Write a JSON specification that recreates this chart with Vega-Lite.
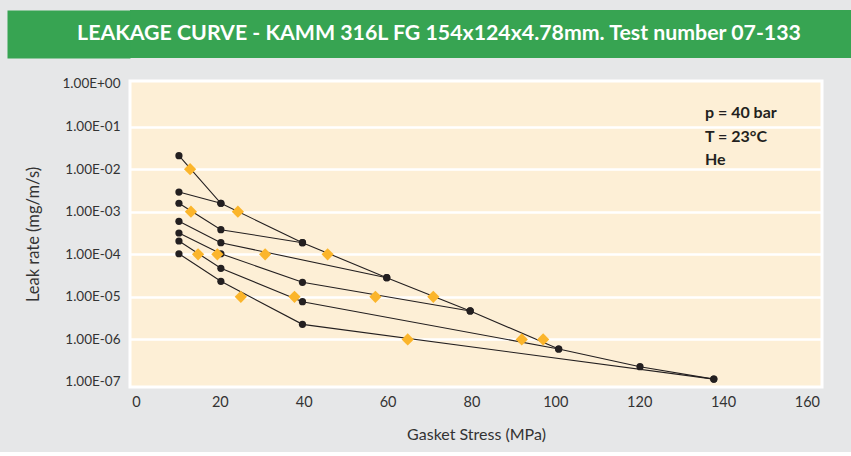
{
  "$schema": "https://vega.github.io/schema/vega-lite/v6.json",
  "background": "#e6e7e8",
  "padding": {"left": 5, "top": 10, "right": 0, "bottom": 8},
  "spacing": 17,
  "config": {"font": "Lato", "view": {"stroke": null}},
  "datasets": {
    "lines": [
      {"s": "load", "i": 1, "x": 10.24, "y": 2.07e-2},
      {"s": "load", "i": 2, "x": 20.24, "y": 1.58e-3},
      {"s": "load", "i": 3, "x": 39.7, "y": 1.87e-4},
      {"s": "load", "i": 4, "x": 59.8, "y": 2.82e-5},
      {"s": "load", "i": 5, "x": 79.7, "y": 4.66e-6},
      {"s": "load", "i": 6, "x": 100.8, "y": 5.96e-7},
      {"s": "load", "i": 7, "x": 120.2, "y": 2.29e-7},
      {"s": "load", "i": 8, "x": 137.8, "y": 1.17e-7},
      {"s": "u20", "i": 1, "x": 20.24, "y": 1.58e-3},
      {"s": "u20", "i": 2, "x": 10.24, "y": 2.90e-3},
      {"s": "u40", "i": 1, "x": 39.7, "y": 1.87e-4},
      {"s": "u40", "i": 2, "x": 20.24, "y": 3.78e-4},
      {"s": "u40", "i": 3, "x": 10.24, "y": 1.58e-3},
      {"s": "u60", "i": 1, "x": 59.8, "y": 2.82e-5},
      {"s": "u60", "i": 2, "x": 20.24, "y": 1.87e-4},
      {"s": "u60", "i": 3, "x": 10.24, "y": 5.95e-4},
      {"s": "u80", "i": 1, "x": 79.7, "y": 4.66e-6},
      {"s": "u80", "i": 2, "x": 39.7, "y": 2.20e-5},
      {"s": "u80", "i": 3, "x": 20.24, "y": 1.03e-4},
      {"s": "u80", "i": 4, "x": 10.24, "y": 3.16e-4},
      {"s": "u100", "i": 1, "x": 100.8, "y": 5.96e-7},
      {"s": "u100", "i": 2, "x": 39.7, "y": 7.69e-6},
      {"s": "u100", "i": 3, "x": 20.24, "y": 4.69e-5},
      {"s": "u100", "i": 4, "x": 10.24, "y": 2.05e-4},
      {"s": "u140", "i": 1, "x": 137.8, "y": 1.17e-7},
      {"s": "u140", "i": 2, "x": 39.7, "y": 2.26e-6},
      {"s": "u140", "i": 3, "x": 20.24, "y": 2.32e-5},
      {"s": "u140", "i": 4, "x": 10.24, "y": 1.03e-4}
    ],
    "diamonds": [
      {"x": 12.9, "y": 1e-2},
      {"x": 24.3, "y": 1e-3},
      {"x": 13.1, "y": 1e-3},
      {"x": 14.8, "y": 1e-4},
      {"x": 19.4, "y": 1e-4},
      {"x": 30.8, "y": 1e-4},
      {"x": 45.7, "y": 1e-4},
      {"x": 25.0, "y": 1e-5},
      {"x": 37.8, "y": 1e-5},
      {"x": 57.1, "y": 1e-5},
      {"x": 70.9, "y": 1e-5},
      {"x": 64.8, "y": 1e-6},
      {"x": 92.0, "y": 1e-6},
      {"x": 97.1, "y": 1e-6}
    ]
  },
  "vconcat": [
    {
      "width": 723,
      "height": 48,
      "view": {"fill": "#37a452", "stroke": null},
      "data": {"values": [{"t": "LEAKAGE CURVE - KAMM 316L FG 154x124x4.78mm. Test number 07-133"}]},
      "mark": {"type": "text", "color": "white", "font": "Lato", "fontWeight": "bold", "fontSize": 21.3, "dx": -52.5, "baseline": "middle", "align": "center"},
      "encoding": {
        "text": {"field": "t"},
        "y": {
          "datum": 0, "type": "quantitative",
          "scale": {"domain": [-1, 1]},
          "axis": {
            "orient": "left", "domain": true, "domainColor": "#37a452", "domainWidth": 123,
            "domainOpacity": 1, "offset": 61.5,
            "labels": false, "ticks": false, "grid": false, "title": null
          }
        }
      }
    },
    {
      "width": 692,
      "height": 306,
      "view": {"fill": "#fdefd6", "stroke": "white", "strokeWidth": 3},
      "resolve": {"axis": {"y": "independent"}},
      "layer": [
        {
          "data": {"name": "lines"},
          "mark": {"type": "line", "color": "#231f20", "strokeWidth": 1.1},
          "encoding": {
            "x": {
              "field": "x", "type": "quantitative",
              "scale": {"domain": [-1.43, 163.6], "nice": false, "zero": false},
              "axis": {
                "values": [0, 20, 40, 60, 80, 100, 120, 140, 160],
                "ticks": false, "domain": false, "grid": false,
                "labelFontSize": 14.5, "labelColor": "#333333", "labelPadding": 8,
                "title": "Gasket Stress (MPa)", "titleFontSize": 16, "titleFontWeight": "normal",
                "titleColor": "#333333", "titlePadding": 18
              }
            },
            "y": {
              "field": "y", "type": "quantitative",
              "scale": {"type": "log", "domain": [7.63e-8, 1.176], "nice": false},
              "axis": {
                "orient": "left",
                "values": [1e-7, 1e-6, 1e-5, 1e-4, 1e-3, 1e-2, 1e-1, 1],
                "labelExpr": "datum.value >= 1 ? '1.00E+00' : '1.00E-0' + round(-log(datum.value) / LN10)",
                "domain": false, "grid": false,
                "ticks": true, "tickSize": 123, "tickOpacity": 0,
                "labelPadding": -113, "labelFontSize": 13.5, "labelColor": "#333333",
                "title": "Leak rate (mg/m/s)", "titleFontSize": 16.5, "titleFontWeight": "normal",
                "titleColor": "#333333", "titleX": -97, "titleY": 153, "titleAngle": 270,
                "titleAlign": "center", "titleBaseline": "middle"
              }
            },
            "detail": {"field": "s"},
            "order": {"field": "i"}
          }
        },
        {
          "data": {"name": "lines"},
          "mark": {"type": "point", "shape": "circle", "filled": true, "size": 52, "color": "#231f20", "opacity": 1},
          "encoding": {
            "x": {"field": "x", "type": "quantitative"},
            "y": {"field": "y", "type": "quantitative", "axis": null}
          }
        },
        {
          "data": {"name": "diamonds"},
          "mark": {"type": "point", "shape": "diamond", "filled": true, "size": 150, "color": "#fbb52b", "opacity": 1},
          "encoding": {
            "x": {"field": "x", "type": "quantitative"},
            "y": {
              "field": "y", "type": "quantitative",
              "axis": {
                "orient": "left",
                "values": [1e-6, 1e-5, 1e-4, 1e-3, 1e-2, 1e-1],
                "labels": false, "ticks": false, "domain": false, "title": null,
                "grid": true, "gridColor": "white", "gridWidth": 2.5, "gridOpacity": 1
              }
            }
          }
        },
        {
          "data": {"values": [{"note": "p = 40 bar"}]},
          "mark": {
            "type": "text", "text": ["p = 40 bar", "T = 23°C", "He"],
            "align": "left", "baseline": "middle", "lineHeight": 23.5,
            "fontSize": 16, "fontWeight": "bold", "color": "#231f20"
          },
          "encoding": {
            "x": {"datum": 135.7, "type": "quantitative"},
            "y": {"datum": 0.205, "type": "quantitative", "axis": null}
          }
        }
      ]
    }
  ]
}
